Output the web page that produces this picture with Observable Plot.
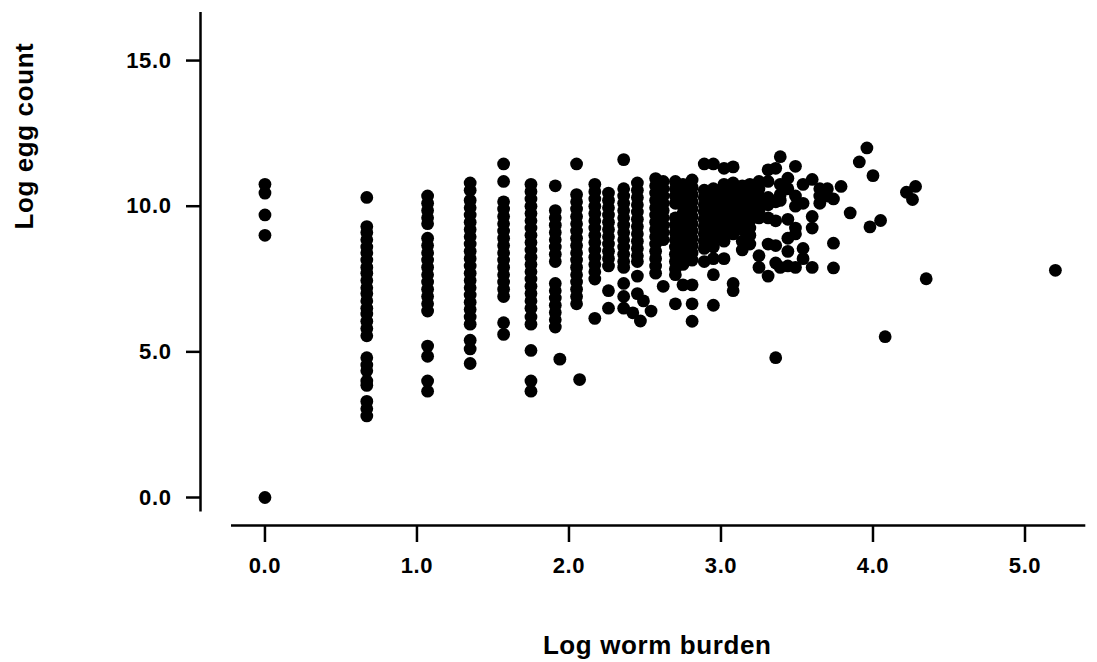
<!DOCTYPE html>
<html>
<head>
<meta charset="utf-8">
<script src="https://cdn.jsdelivr.net/npm/d3@7"></script>
<script src="https://cdn.jsdelivr.net/npm/@observablehq/plot@0.6"></script>
<style>
  body { margin: 0; background: #fff; }
  svg text { letter-spacing: 0.6px; }
</style>
</head>
<body>
<div id="chart"></div>
<script>
// Column positions (log worm burden) and the log egg counts stacked in each column
const burdenColumns = [0, 0.67, 1.07, 1.35, 1.57, 1.75, 1.91, 2.05, 2.17, 2.26, 2.36, 2.45, 2.57, 2.62, 2.70, 2.75, 2.81, 2.89, 2.95, 3.02, 3.08, 3.14, 3.19, 3.25, 3.31, 3.36, 3.39, 3.44, 3.49, 3.54, 3.60, 3.65, 3.70, 3.74, 3.79, 3.85];
const eggColumns = [
  [10.75, 10.45, 9.7, 9.0, 0.0],
  [10.3, 9.3, 9.1, 8.85, 8.6, 8.4, 8.15, 7.9, 7.7, 7.45, 7.2, 7.0, 6.75, 6.5, 6.3, 6.05, 5.8, 5.55, 4.8, 4.55, 4.35, 4.0, 3.85, 3.3, 3.05, 2.8],
  [10.35, 10.1, 9.85, 9.6, 9.4, 8.9, 8.65, 8.4, 8.15, 7.9, 7.65, 7.4, 7.15, 6.9, 6.65, 6.4, 5.2, 4.85, 4.0, 3.65],
  [10.8, 10.55, 10.2, 9.95, 9.7, 9.45, 9.2, 8.95, 8.7, 8.45, 8.2, 7.95, 7.7, 7.45, 7.2, 6.95, 6.7, 6.45, 6.2, 5.95, 5.4, 5.1, 4.6],
  [11.45, 10.85, 10.15, 9.9, 9.65, 9.4, 9.15, 8.9, 8.65, 8.4, 8.15, 7.9, 7.65, 7.4, 7.15, 6.9, 6.0, 5.6],
  [10.75, 10.5, 10.25, 10.0, 9.75, 9.5, 9.25, 9.0, 8.75, 8.5, 8.25, 8.0, 7.75, 7.5, 7.25, 7.0, 6.75, 6.5, 6.2, 5.95, 5.05, 4.0, 3.65],
  [10.7, 9.85, 9.6, 9.35, 9.1, 8.85, 8.6, 8.35, 8.1, 7.35, 7.1, 6.85, 6.6, 6.35, 6.1, 5.85],
  [11.45, 10.4, 10.15, 9.9, 9.65, 9.4, 9.15, 8.9, 8.65, 8.4, 8.15, 7.9, 7.65, 7.4, 7.15, 6.9, 6.65],
  [10.75, 10.5, 10.25, 10.0, 9.75, 9.5, 9.25, 9.0, 8.75, 8.5, 8.25, 8.0, 7.75, 7.5, 6.15],
  [10.45, 10.2, 9.95, 9.7, 9.45, 9.2, 8.95, 8.7, 8.45, 8.2, 7.95, 7.1, 6.5],
  [11.6, 10.6, 10.35, 10.1, 9.85, 9.6, 9.35, 9.1, 8.85, 8.6, 8.35, 8.1, 7.9, 7.35, 6.9, 6.5],
  [10.8, 10.55, 10.3, 10.05, 9.8, 9.55, 9.3, 9.05, 8.8, 8.55, 8.3, 8.1, 7.6, 7.0],
  [10.95, 10.7, 10.45, 10.2, 9.95, 9.7, 9.45, 9.2, 8.95, 8.7, 8.45, 8.2, 7.95, 7.7],
  [10.85, 10.6, 10.35, 10.1, 9.85, 9.6, 9.35, 9.1, 8.85, 7.25],
  [10.85, 10.6, 10.35, 10.1, 9.6, 9.35, 9.1, 8.85, 8.6, 8.35, 8.1, 7.85, 7.65, 6.65],
  [10.75, 10.5, 10.25, 10.0, 9.75, 9.5, 9.25, 9.0, 8.75, 8.5, 8.25, 8.0, 7.3],
  [10.9, 10.65, 10.4, 10.15, 9.9, 9.65, 9.4, 9.15, 8.9, 8.65, 8.4, 8.15, 7.3, 6.65, 6.05],
  [11.45, 10.55, 10.3, 10.05, 9.8, 9.55, 9.3, 9.05, 8.8, 8.55, 8.1],
  [11.45, 10.6, 10.35, 10.1, 9.85, 9.6, 9.35, 9.1, 8.85, 8.6, 8.2, 7.65, 6.6],
  [11.3, 10.75, 10.5, 10.25, 10.0, 9.75, 9.5, 9.25, 9.0, 8.8, 8.2],
  [11.35, 10.8, 10.55, 10.3, 10.05, 9.8, 9.55, 9.3, 9.05, 7.35, 7.1],
  [10.7, 10.45, 10.2, 9.95, 9.7, 9.45, 9.2, 8.8, 8.5],
  [10.75, 10.5, 10.25, 10.0, 9.75, 9.5, 9.25, 9.0, 8.7],
  [10.85, 10.6, 10.35, 10.1, 9.85, 9.6, 8.3, 7.9],
  [11.25, 10.85, 10.3, 10.05, 9.6, 8.7, 7.6],
  [11.3, 10.15, 9.5, 8.65, 8.05, 4.8],
  [11.7, 10.75, 10.4, 10.2, 7.9],
  [10.96, 10.6, 9.55, 8.9, 8.45, 7.95],
  [11.37, 10.35, 10.0, 9.25, 9.05, 7.9],
  [10.75, 10.1, 8.55, 8.2],
  [10.92, 9.65, 9.25, 7.9],
  [10.6, 10.35, 10.1],
  [10.6, 10.35],
  [10.25, 8.73, 7.88],
  [10.68],
  [9.77]
];
// Isolated points
const looseBurden = [1.94, 2.07, 2.42, 2.49, 2.54, 2.47, 3.91, 3.96, 4.0, 3.98, 4.05, 4.08, 4.22, 4.28, 4.26, 4.35, 5.2];
const looseEggs   = [4.75, 4.05, 6.34, 6.75, 6.4, 6.06, 11.52, 12.0, 11.05, 9.29, 9.51, 5.52, 10.48, 10.68, 10.23, 7.51, 7.8];

const xTicks = [0, 1, 2, 3, 4, 5];
const yTicks = [0, 5, 10, 15];
const xTitle = "Log worm burden";
const yTitle = "Log egg count";

const points = burdenColumns.flatMap((b, i) => eggColumns[i].map(e => ({burden: b, eggs: e})))
  .concat(looseBurden.map((b, i) => ({burden: b, eggs: looseEggs[i]})));

const fmt = d => d.toFixed(1);

const chart = Plot.plot({
  width: 1097,
  height: 662,
  marginLeft: 200,
  marginRight: 11.7,
  marginTop: 12,
  marginBottom: 137,
  x: {domain: [-0.424, 5.4]},
  y: {domain: [-0.961, 16.65]},
  style: {
    fontFamily: "'Liberation Sans', Arial, Helvetica, sans-serif",
    fontWeight: "bold",
    fontSize: "22px",
    color: "black",
    background: "white"
  },
  marks: [
    Plot.ruleX([-0.424], {y1: -0.5, y2: 16.65, strokeWidth: 2.5}),
    Plot.ruleY([-0.961], {x1: -0.22, x2: 5.4, strokeWidth: 2.5}),
    Plot.axisY(yTicks, {anchor: "left", tickSize: 14, tickPadding: 15, tickFormat: fmt, strokeWidth: 2.5, fontSize: 22, fontWeight: "bold", label: null}),
    Plot.axisX(xTicks, {anchor: "bottom", tickSize: 17, tickPadding: 15, tickFormat: fmt, strokeWidth: 2.5, fontSize: 22, fontWeight: "bold", label: null}),
    Plot.dot(points, {x: "burden", y: "eggs", r: 6.4, fill: "black"}),
    Plot.text([yTitle], {frameAnchor: "left", rotate: -90, dx: -176, dy: -39.5, fontSize: 26, fontWeight: "bold"}),
    Plot.text([xTitle], {frameAnchor: "bottom", dx: 14, dy: 128, lineAnchor: "bottom", fontSize: 26, fontWeight: "bold"})
  ]
});
document.getElementById("chart").appendChild(chart);
</script>
</body>
</html>
